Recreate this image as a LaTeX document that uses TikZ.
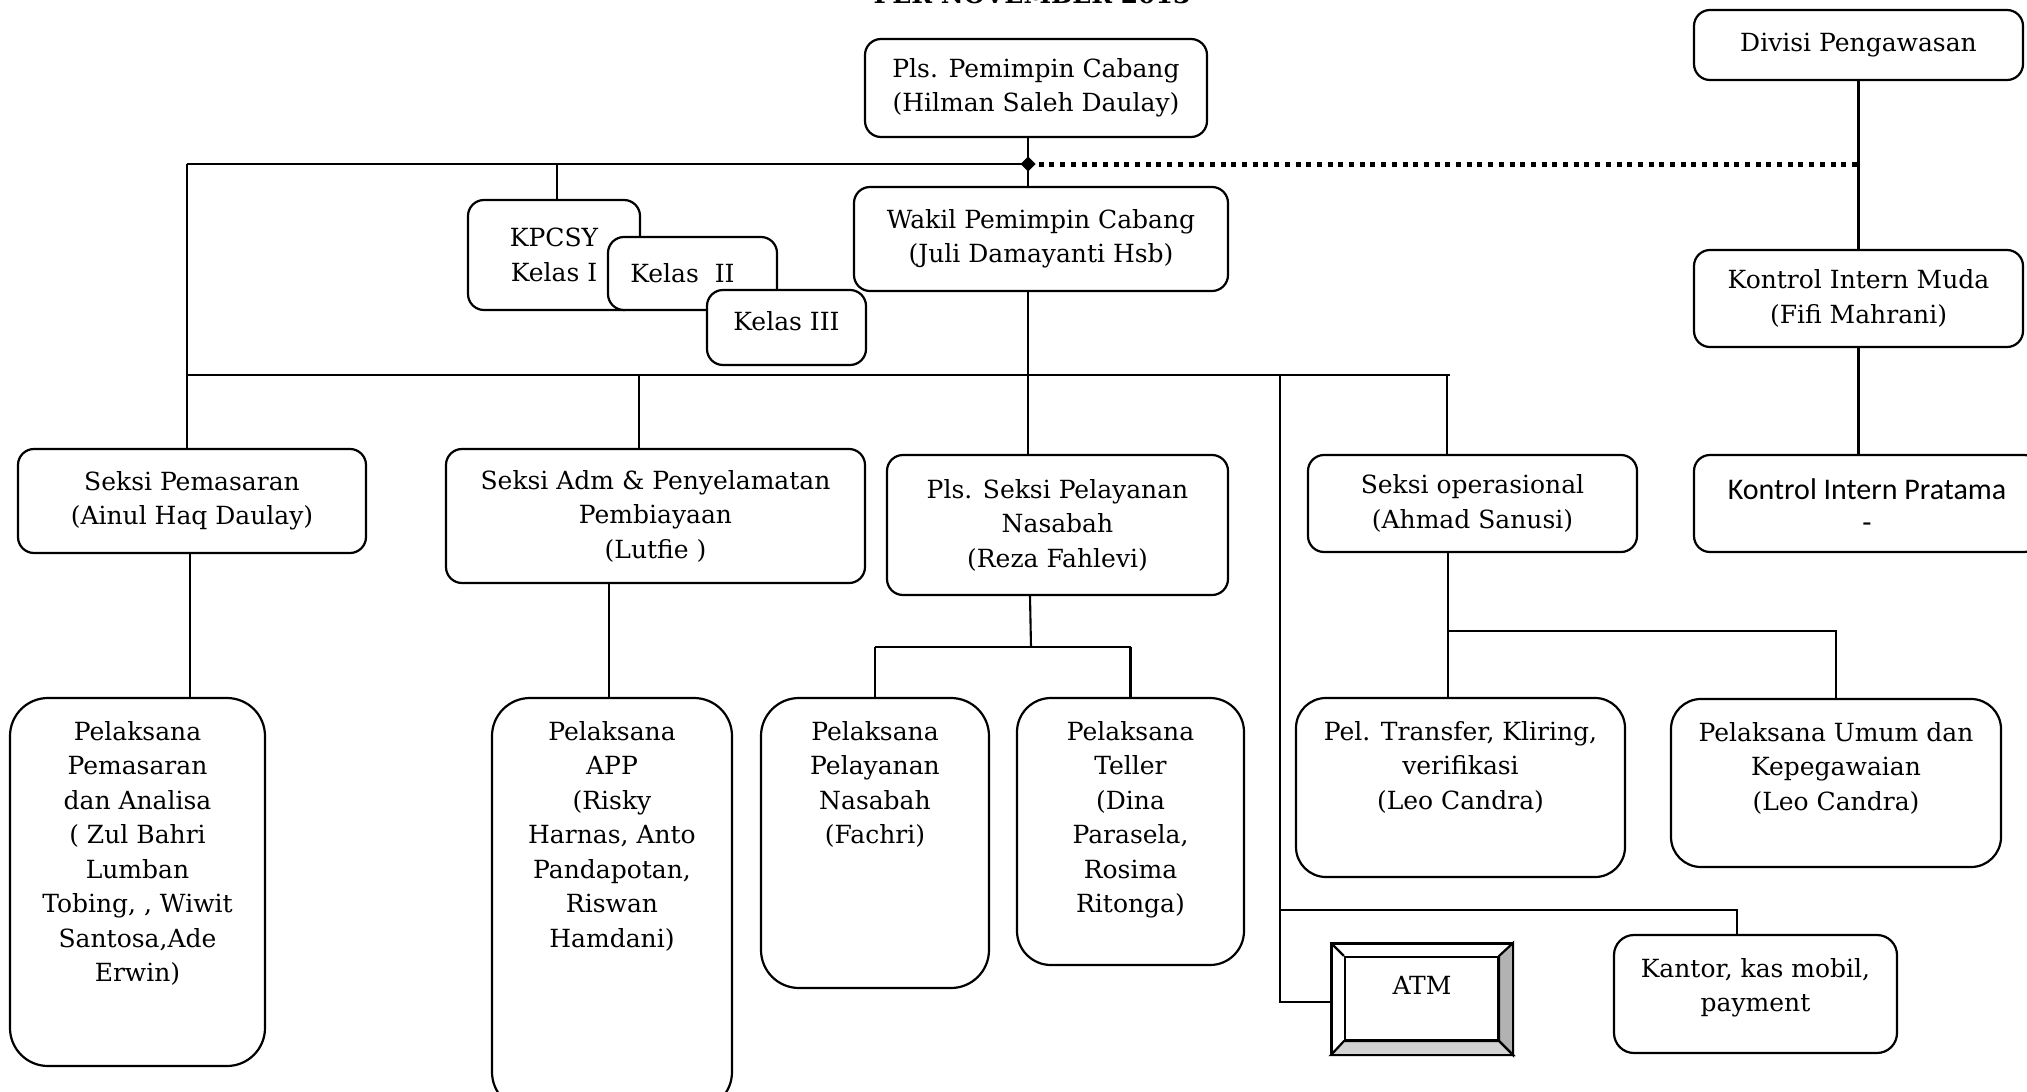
\documentclass[tikz,border=0pt]{standalone}
\usepackage{fontspec}
\setmainfont{DejaVu Serif}
\newfontfamily\calib{Carlito}
\begin{document}
\begin{tikzpicture}[x=1pt,y=-1pt,
  every node/.style={font=\fontsize{25}{34.5}\selectfont},
  box/.style={draw, line width=2.2pt, fill=white, rounded corners=16pt, align=center, inner sep=0pt},
  tall/.style={box, rounded corners=38pt},
  lbl/.style={anchor=north, yshift=-24pt, align=center, inner sep=0pt, font=\fontsize{25}{34.5}\selectfont},
  conn/.style={line width=2.1pt},
  dots/.style={line width=5pt, dash pattern=on 5pt off 5.7pt},
]
\useasboundingbox (0,0) rectangle (2027,1092);
\fill[white] (0,0) rectangle (2027,1092);

\node[font=\bfseries\fontsize{25}{28}\selectfont, anchor=base] (title) at (1032,3) {PER NOVEMBER 2013};

% bus coordinates
\coordinate (jt) at (1028,164);
\coordinate (tl) at (187,164);
\coordinate (ml) at (187,375);
\coordinate (mr) at (1450,375);
\coordinate (badm) at (639,375);
\coordinate (bops) at (1447,375);
\coordinate (btr) at (1280,375);
\coordinate (bkan) at (1280,910);
\coordinate (katm) at (1280,1002);
\coordinate (pelb) at (1031,647);
\coordinate (opsb) at (1448,631);

% nodes
\node[box, minimum width=342pt, minimum height=98pt] (pimpin) at (1036,88) {Pls. Pemimpin Cabang\\(Hilman Saleh Daulay)};
\node[box, minimum width=329pt, minimum height=70pt] (divisi) at (1858.5,45) {Divisi Pengawasan};
\node[box, minimum width=374pt, minimum height=104pt] (wakil) at (1041,239) {Wakil Pemimpin Cabang\\(Juli Damayanti Hsb)};
\node[box, minimum width=172pt, minimum height=110pt] (kpcsy) at (554,255) {KPCSY\\Kelas I};
\node[box, minimum width=169pt, minimum height=73pt] (kelas2) at (692.5,273.5) {\hspace*{-20pt}Kelas\ \ II};
\node[box, minimum width=159pt, minimum height=75pt,
  label={[inner sep=0pt, yshift=6pt]center:Kelas III}] (kelas3) at (786.5,327.5) {};
\node[box, minimum width=329pt, minimum height=97pt] (kim) at (1858.5,298.5) {Kontrol Intern Muda\\(Fifi Mahrani)};
\node[box, minimum width=346pt, minimum height=97pt,
  label={[inner sep=0pt, align=center, yshift=-2pt, font=\calib\fontsize{30}{33}\selectfont]center:Kontrol Intern Pratama\\-}] (kip) at (1867,503.5) {};
\node[box, minimum width=348pt, minimum height=104pt] (spem) at (192,501) {Seksi Pemasaran\\(Ainul Haq Daulay)};
\node[box, minimum width=419pt, minimum height=134pt] (sadm) at (655.5,516) {Seksi Adm \& Penyelamatan\\Pembiayaan\\(Lutfie )};
\node[box, minimum width=341pt, minimum height=140pt] (spel) at (1057.5,525) {Pls. Seksi Pelayanan\\Nasabah\\(Reza Fahlevi)};
\node[box, minimum width=329pt, minimum height=97pt] (sops) at (1472.5,503.5) {Seksi operasional\\(Ahmad Sanusi)};

\node[tall, minimum width=255pt, minimum height=368pt,
  label={[lbl]north:Pelaksana\\Pemasaran\\dan Analisa\\( Zul Bahri\\Lumban\\Tobing, , Wiwit\\Santosa,Ade\\Erwin)}] (ppem) at (137.5,882) {};
\node[tall, minimum width=240pt, minimum height=412pt,
  label={[lbl]north:Pelaksana\\APP\\(Risky\\Harnas, Anto\\Pandapotan,\\Riswan\\Hamdani)}] (papp) at (612,904) {};
\node[tall, minimum width=228pt, minimum height=290pt,
  label={[lbl]north:Pelaksana\\Pelayanan\\Nasabah\\(Fachri)}] (ppn) at (875,843) {};
\node[tall, rounded corners=34pt, minimum width=227pt, minimum height=267pt,
  label={[lbl]north:Pelaksana\\Teller\\(Dina\\Parasela,\\Rosima\\Ritonga)}] (ptel) at (1130.5,831.5) {};
\node[tall, rounded corners=30pt, minimum width=329pt, minimum height=179pt,
  label={[lbl]north:Pel. Transfer, Kliring,\\verifikasi\\(Leo Candra)}] (ptrans) at (1460.5,787.5) {};
\node[tall, rounded corners=30pt, minimum width=330pt, minimum height=168pt,
  label={[lbl]north:Pelaksana Umum dan\\Kepegawaian\\(Leo Candra)}] (pumum) at (1836,783) {};
\node[box, rounded corners=20pt, minimum width=283pt, minimum height=118pt,
  label={[inner sep=0pt, align=center, yshift=6pt, font=\fontsize{25}{34.5}\selectfont]center:Kantor, kas mobil,\\payment}] (kantor) at (1755.5,994) {};

% ATM bevel box
\node[draw, line width=2.2pt, fill=white, minimum width=180pt, minimum height=110pt, inner sep=0pt] (atm) at (1422,999) {};
\node[draw, line width=2.2pt, minimum width=153pt, minimum height=83pt, inner sep=0pt] (atmin) at (1421.5,998.5) {};
\filldraw[line width=2.2pt, fill=gray!60, line join=miter] (atm.north east) -- (atm.south east) -- (atmin.south east) -- (atmin.north east) -- cycle;
\filldraw[line width=2.2pt, fill=gray!35, line join=miter] (atm.south west) -- (atm.south east) -- (atmin.south east) -- (atmin.south west) -- cycle;
\draw[line width=2.2pt] (atm.north west) -- (atmin.north west);
\draw[line width=2.2pt] (atm.north west) rectangle (atm.south east);
\node[inner sep=0pt] (atmtxt) at (1422,985) {ATM};

% connectors
\draw[conn] (pimpin.south -| jt) -- (wakil.north -| jt);
\draw[conn] (tl) -- (jt);
\draw[conn] (tl) -- (tl |- spem.north);
\draw[conn] (kpcsy.north -| 557,0) -- (557,0 |- tl);
\draw[dots] (jt) -- (divisi.south |- jt);
\fill (jt) ++(-7.5,0) -- ++(7.5,-7.5) -- ++(7.5,7.5) -- ++(-7.5,7.5) -- cycle;
\draw[conn] (divisi.south) -- (kim.north);
\draw[conn] (kim.south) -- (kim.south |- kip.north);

\draw[conn] (ml) -- (mr);
\draw[conn] (wakil.south -| jt) -- (spel.north -| jt);
\draw[conn] (badm) -- (badm |- sadm.north);
\draw[conn] (bops) -- (bops |- sops.north);
\draw[conn] (btr) -- (katm) -- (atm.west |- katm);
\draw[conn] (bkan) -- (1737,0 |- bkan) -- (1737,0 |- kantor.north);

\draw[conn] (spem.south -| 190,0) -- (190,0 |- ppem.north);
\draw[conn] (sadm.south -| 609,0) -- (609,0 |- papp.north);
\draw[conn] (spel.south -| 1030,0) -- (pelb);
\draw[conn] (ppn.north |- pelb) -- (ptel.north |- pelb);
\draw[conn] (ppn.north |- pelb) -- (ppn.north);
\draw[conn] (ptel.north |- pelb) -- (ptel.north);
\draw[conn] (sops.south -| opsb) -- (opsb |- ptrans.north);
\draw[conn] (opsb) -- (pumum.north |- opsb) -- (pumum.north);
\end{tikzpicture}
\end{document}
